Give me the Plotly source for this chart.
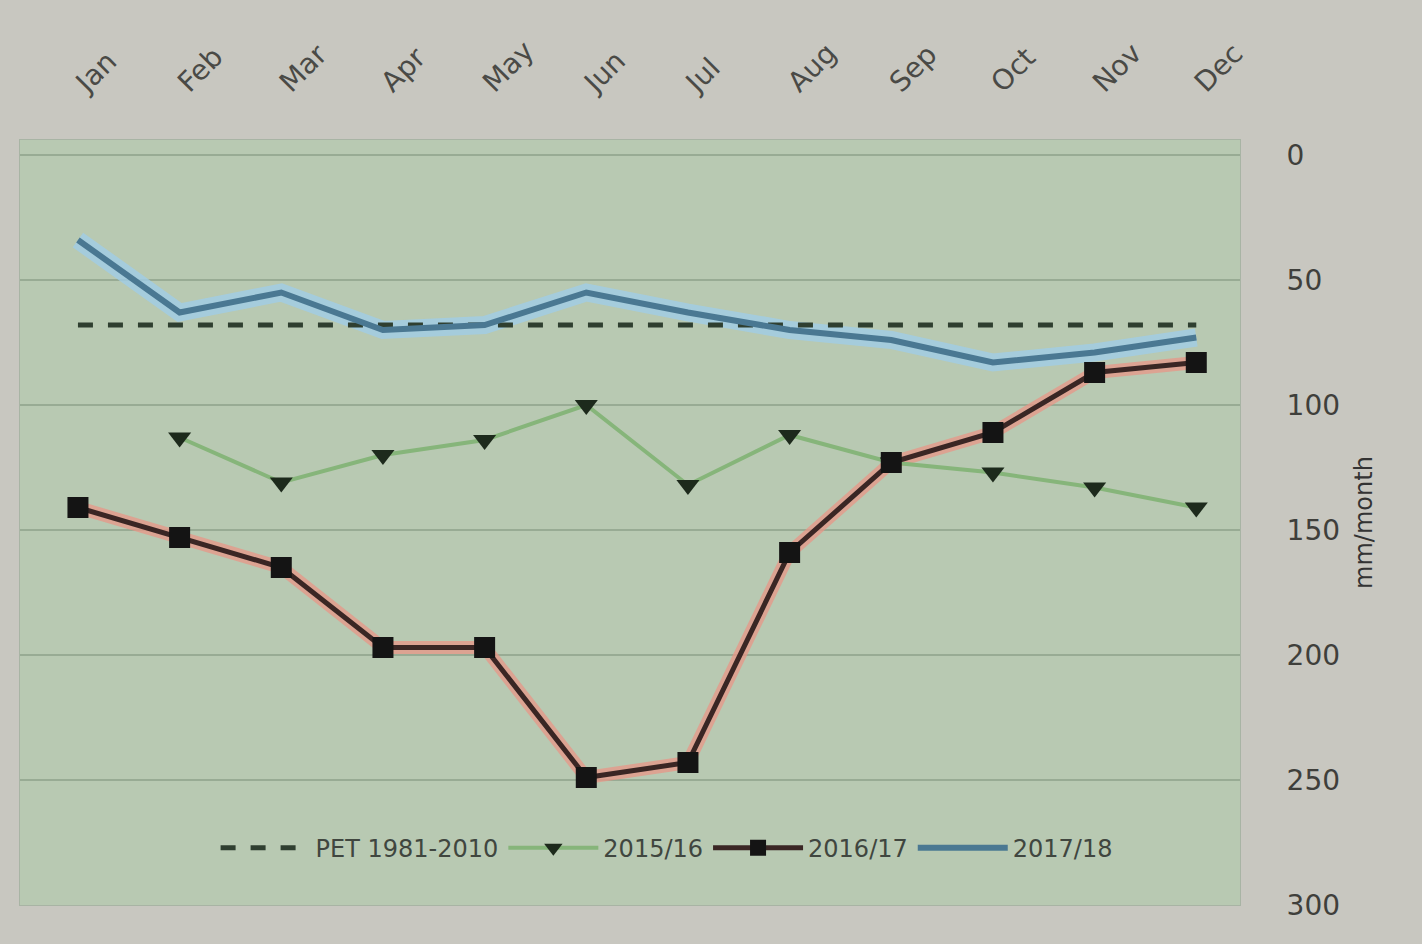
import plotly.graph_objects as go

months = ["Jan", "Feb", "Mar", "Apr", "May", "Jun", "Jul", "Aug", "Sep", "Oct", "Nov", "Dec"]
pet_mean = [68, 68, 68, 68, 68, 68, 68, 68, 68, 68, 68, 68]
series_a = [None, 113, 131, 120, 114, 100, 132, 112, 123, 127, 133, 141]
series_b = [141, 153, 165, 197, 197, 249, 243, 159, 123, 111, 87, 83]
series_c = [34, 63, 55, 70, 68, 55, 63, 70, 74, 83, 79, 73]
tick_vals = [0, 50, 100, 150, 200, 250, 300]
names = ["PET 1981-2010", "2015/16", "2016/17", "2017/18"]

fig = go.Figure()
# halo traces
fig.add_trace(go.Scatter(x=months, y=series_b, mode="lines", line=dict(color="rgba(232,150,135,0.75)", width=13),
                         showlegend=False, hoverinfo="skip"))
fig.add_trace(go.Scatter(x=months, y=series_c, mode="lines", line=dict(color="rgba(160,205,230,0.8)", width=18),
                         showlegend=False, hoverinfo="skip"))

fig.add_trace(go.Scatter(x=months, y=pet_mean, mode="lines", name=names[0],
                         line=dict(color="#2f3f30", width=5, dash="dash")))
fig.add_trace(go.Scatter(x=months, y=series_a, mode="lines+markers", name=names[1],
                         line=dict(color="#86b57a", width=4),
                         marker=dict(symbol="triangle-down", size=20, color="#1d2a1c")))
fig.add_trace(go.Scatter(x=months, y=series_b, mode="lines+markers", name=names[2],
                         line=dict(color="#3a2624", width=5),
                         marker=dict(symbol="square", size=21, color="#141414")))
fig.add_trace(go.Scatter(x=months, y=series_c, mode="lines", name=names[3],
                         line=dict(color="#4a7892", width=6)))

fig.update_layout(
    width=1422, height=944,
    margin=dict(l=20, r=182, t=140, b=39),
    paper_bgcolor="#c8c7c0",
    plot_bgcolor="#b8c9b2",
    font=dict(family="DejaVu Sans", color="#3a3d38", size=22),
    legend=dict(orientation="h", x=0.53, xanchor="center", y=0.045, yanchor="bottom",
                bgcolor="rgba(0,0,0,0)", font=dict(size=24, color="#40463f"),
                itemwidth=90),
    xaxis=dict(side="top", tickangle=-45, range=[-0.57, 11.43], showgrid=False,
               tickfont=dict(size=28, color="#4a4a46"), ticklabelstandoff=30,
               showline=True, linecolor="#a8b4a4", mirror=True),
    yaxis=dict(side="right", autorange=False, range=[300, -6], tickvals=tick_vals,
               showgrid=True, gridcolor="#98ab94", gridwidth=2, zeroline=False,
               tickfont=dict(size=28, color="#3f3f3b"), ticklabelstandoff=40,
               title=dict(text="mm/month", font=dict(size=24, color="#333"), standoff=16),
               showline=True, linecolor="#a8b4a4", mirror=True),
)

fig.write_html("out.html")
